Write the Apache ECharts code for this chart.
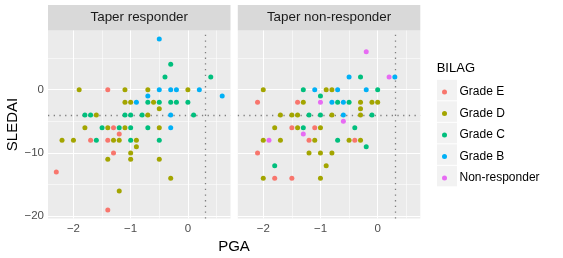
<!DOCTYPE html>
<html><head><meta charset="utf-8">
<script src="https://cdn.jsdelivr.net/npm/echarts@6/dist/echarts.min.js"></script>
<style>html,body{margin:0;padding:0;background:#fff}#c{width:563px;height:258px}</style>
</head><body><div id="c"></div>
<script>
// ---- data ----
const panels = ['Taper responder', 'Taper non-responder'];
const grades = ['Grade E', 'Grade D', 'Grade C', 'Grade B', 'Non-responder'];
const colors = ['#F8766D', '#A3A500', '#00BF7D', '#00B0F6', '#E76BF3'];

// Taper responder: [PGA, SLEDAI]
const respE = [[-1.4,0],[-1.3,-6],[-1.7,-8],[-1.4,-8],[-1.2,-7],[-1.3,-10],[-2.3,-13],[-1.4,-19]];
const respD = [[-1.9,0],[-1.1,0],[-0.7,0],[0.0,0],[-1.1,-2],[-1.0,-2],[-0.6,-2],[-0.5,-3],[-1.6,-4],[-0.7,-4],
  [-1.8,-6],[-1.4,-6],[-1.1,-6],[-0.5,-6],[-2.2,-8],[-2.0,-8],[-1.3,-8],[-1.2,-8],[-0.9,-8],[-0.9,-9],
  [-1.0,-10],[-1.4,-11],[-1.0,-11],[-0.5,-11],[-0.3,-14],[-1.2,-16]];
const respC = [[-0.3,4],[-0.4,2],[0.4,2],[-0.7,-2],[-0.5,-2],[-0.3,-2],[-0.2,-2],[0.0,-2],[-1.8,-4],[-1.7,-4],
  [-1.1,-4],[-1.0,-4],[-0.8,-4],[0.1,-4],[-1.5,-6],[-1.2,-6],[-1.0,-6],[-0.7,-6],[-1.6,-8],[-1.0,-8],[-0.5,-8]];
const respB = [[-0.5,8],[-0.5,0],[-0.3,0],[-0.2,0],[0.2,0],[-0.7,-1],[0.6,-1],[-0.9,-2],[-0.3,-4],[-0.3,-6]];
const respNR = [];

// Taper non-responder
const nonE = [[-2.1,-2],[-1.4,-2],[-1.5,-6],[-1.1,-6],[-1.2,-8],[-0.4,-8],[-2.1,-10],[-1.8,-14],[-1.5,-14]];
const nonD = [[-2.0,0],[-0.9,0],[-0.8,0],[-1.3,-2],[-0.3,-2],[-0.1,-2],[0.0,-2],[-0.3,-3],[-1.7,-4],[-1.5,-4],
  [-1.4,-4],[-0.8,-4],[-0.3,-4],[-1.8,-6],[-1.4,-6],[-1.0,-6],[-2.0,-8],[-1.7,-8],[-1.1,-8],[-0.5,-8],
  [-0.3,-8],[-1.2,-10],[-1.0,-10],[-0.8,-10],[-0.9,-12],[-2.0,-14],[-1.0,-14]];
const nonC = [[-0.3,2],[-1.3,0],[0.0,0],[-1.0,-1],[-0.7,-2],[-0.5,-2],[-1.2,-4],[-1.0,-4],[-0.1,-4],[-1.3,-6],
  [-0.4,-6],[-0.7,-8],[-0.2,-9],[-1.8,-12]];
const nonB = [[-0.5,2],[0.3,2],[-1.1,0],[-0.7,0],[-0.2,0],[-0.8,-2],[-0.6,-2],[-0.6,-4]];
const nonNR = [[-0.2,6],[0.2,2],[-1.0,-2],[-0.6,-5],[-1.3,-7],[-1.9,-8]];

const xTicks = [-2, -1, 0];
const xMinor = [-1.5, -0.5, 0.5];
const yTicks = [0, -10, -20];
const yMinor = [5, -5, -15];
const hRef = -4;   // SLEDAI threshold
const vRef = 0.3;  // PGA threshold

// ---- chart ----
const FONT = "'Liberation Sans', Arial, sans-serif";
const fmt = v => v < 0 ? '\u2212' + Math.abs(v) : String(v);
const panelData = [[respE, respD, respC, respB, respNR], [nonE, nonD, nonC, nonB, nonNR]];

const grids = [
  {left: 48, top: 30.5, width: 182.5, height: 188},
  {left: 237.8, top: 30.5, width: 182.5, height: 188}
].map(g => Object.assign(g, {show: true, backgroundColor: '#EBEBEB', borderWidth: 0, containLabel: false}));

const xAxes = [0, 1].map(i => ({
  type: 'value', gridIndex: i, min: -2.445, max: 0.745,
  axisLine: {show: false}, splitLine: {show: false},
  axisTick: {show: true, length: 3.5, customValues: xTicks, lineStyle: {color: '#333333', width: 1}},
  axisLabel: {customValues: xTicks, formatter: fmt, color: '#4D4D4D', fontSize: 11.5, fontFamily: FONT, margin: 4}
}));
const yAxes = [0, 1].map(i => ({
  type: 'value', gridIndex: i, min: -20.35, max: 9.35,
  axisLine: {show: false}, splitLine: {show: false},
  axisTick: {show: i === 0, length: 3.5, customValues: yTicks, lineStyle: {color: '#333333', width: 1}},
  axisLabel: {show: i === 0, customValues: yTicks, formatter: fmt, color: '#4D4D4D', fontSize: 11.5, fontFamily: FONT, margin: 4},
  name: i === 0 ? 'SLEDAI' : '', nameLocation: 'middle', nameRotate: 90, nameGap: 24,
  nameTextStyle: {fontSize: 15, color: '#000', fontFamily: FONT}
}));

const series = [];
[0, 1].forEach(p => {
  const lines = [];
  xTicks.forEach(v => lines.push({xAxis: v, lineStyle: {width: 1.1}}));
  xMinor.forEach(v => lines.push({xAxis: v, lineStyle: {width: 0.55}}));
  yTicks.forEach(v => lines.push({yAxis: v, lineStyle: {width: 1.1}}));
  yMinor.forEach(v => lines.push({yAxis: v, lineStyle: {width: 0.55}}));
  series.push({
    type: 'scatter', xAxisIndex: p, yAxisIndex: p, data: [], z: 1, silent: true,
    markLine: {z: 1, silent: true, symbol: 'none', animation: false, label: {show: false},
      lineStyle: {color: '#FFFFFF', type: 'solid'}, data: lines}
  });
  series.push({
    type: 'scatter', xAxisIndex: p, yAxisIndex: p, data: [], z: 2, silent: true,
    markLine: {z: 2, silent: true, symbol: 'none', animation: false, label: {show: false},
      lineStyle: {color: '#7F7F7F', type: [1.3, 4.4], width: 1.3},
      data: [{yAxis: hRef}, {xAxis: vRef}]}
  });
  grades.forEach((g, k) => {
    series.push({
      name: g, type: 'scatter', xAxisIndex: p, yAxisIndex: p, z: 3,
      data: panelData[p][k], symbol: 'circle', symbolSize: 5,
      itemStyle: {color: colors[k], opacity: 1}, animation: false
    });
  });
});

const graphics = [];
grids.forEach((g, i) => {
  graphics.push({type: 'rect', shape: {x: g.left, y: 5, width: g.width, height: 25.5},
    style: {fill: '#D9D9D9'}, silent: true});
  graphics.push({type: 'text', x: g.left + g.width / 2, y: 17.8,
    style: {text: panels[i], fill: '#1A1A1A', font: '13.4px ' + FONT, textAlign: 'center', textVerticalAlign: 'middle'}, silent: true});
});
graphics.push({type: 'text', x: 234, y: 247,
  style: {text: 'PGA', fill: '#000', font: '15px ' + FONT, textAlign: 'center', textVerticalAlign: 'middle'}, silent: true});
graphics.push({type: 'text', x: 436.7, y: 68,
  style: {text: 'BILAG', fill: '#000', font: '13px ' + FONT, textAlign: 'left', textVerticalAlign: 'middle'}, silent: true});
grades.forEach((g, k) => {
  graphics.push({type: 'rect', shape: {x: 437, y: 79.8 + k * 21.5, width: 20, height: 20.5},
    style: {fill: '#F2F2F2'}, silent: true});
});

const chart = echarts.init(document.getElementById('c'), null, {renderer: 'canvas'});
chart.setOption({
  animation: false,
  grid: grids, xAxis: xAxes, yAxis: yAxes, series: series,
  legend: {
    z: 10, data: grades, orient: 'vertical', left: 437, top: 79, itemWidth: 20, itemHeight: 5,
    itemGap: 5.5, icon: 'circle', selectedMode: false,
    textStyle: {fontSize: 12, color: '#000', fontFamily: FONT, lineHeight: 16}
  },
  graphic: {elements: graphics}
});
</script></body></html>
